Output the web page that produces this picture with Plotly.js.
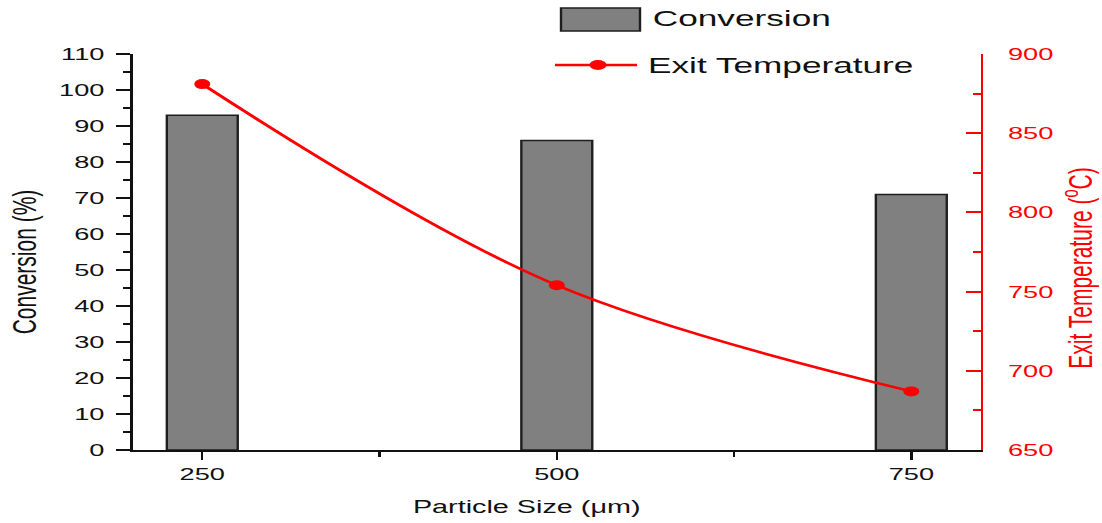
<!DOCTYPE html>
<html>
<head>
<meta charset="utf-8">
<script src="https://cdn.plot.ly/plotly-3.0.1.min.js"></script>
<style>
  html, body { margin: 0; padding: 0; background: #ffffff; }
  #wrap { width: 1102px; height: 523px; overflow: hidden; position: relative; }
  #plot { width: 689px; height: 523px; transform: scaleX(1.6); transform-origin: 0 0; }
</style>
</head>
<body>
<div id="wrap"><div id="plot"></div></div>
<script>
// ---- data ----
const particleSize = [250, 500, 750];            // µm
const conversion = [93, 86, 71];                 // %
const exitTemperature = [881, 754, 687];         // °C
const xTickVals = [250, 500, 750];
const xTickText = ['250', '500', '750'];
const seriesNames = ['Conversion', 'Exit Temperature'];

// ---- geometry helpers (visual px -> paper) ----
const S = 1.6, ML = 83, MR = 76, MT = 54, MB = 73, W = 689, H = 523;
const PW = W - ML - MR, PH = H - MT - MB;
const fx = px => (px / S - ML) / PW;
const fy = py => (H - MB - py) / PH;

const FONT = 'Liberation Sans, Arial, Helvetica, sans-serif';
const RED = '#ff0000';
const INK = '#111111';

const bars = {
  type: 'bar',
  x: particleSize,
  y: conversion,
  name: seriesNames[0],
  width: 50,
  marker: { color: '#808080', line: { color: '#1e1e1e', width: 1.5 } },
  showlegend: false
};

const line = {
  type: 'scatter',
  mode: 'lines+markers',
  x: particleSize,
  y: exitTemperature,
  yaxis: 'y2',
  name: seriesNames[1],
  line: { color: RED, width: 2.5, shape: 'spline', smoothing: 1 },
  marker: { color: RED, size: 10 },
  cliponaxis: false,
  showlegend: false
};

const layout = {
  width: W, height: H,
  margin: { l: ML, r: MR, t: MT, b: MB, pad: 0 },
  paper_bgcolor: '#ffffff',
  plot_bgcolor: '#ffffff',
  font: { family: FONT, color: INK, size: 17 },
  showlegend: false,
  xaxis: {
    range: [201, 799],
    tickvals: xTickVals, ticktext: xTickText,
    ticks: 'outside', ticklen: 8, tickwidth: 1.5, tickcolor: INK,
    minor: { tickvals: [375, 625], ticks: 'outside', ticklen: 5, tickwidth: 1.5, tickcolor: INK },
    showline: true, linecolor: INK, linewidth: 2,
    showgrid: false, zeroline: false,
    tickfont: { family: FONT, size: 17, color: INK },
    fixedrange: true
  },
  yaxis: {
    range: [0, 110], dtick: 10, tick0: 0,
    ticks: 'outside', ticklen: 8.75, tickwidth: 2, tickcolor: INK,
    minor: { dtick: 5, ticks: 'outside', ticklen: 4.5, tickwidth: 2, tickcolor: INK },
    showline: true, linecolor: INK, linewidth: 1.6,
    showgrid: false, zeroline: false,
    tickfont: { family: FONT, size: 17, color: INK },
    ticklabelstandoff: 4,
    fixedrange: true
  },
  yaxis2: {
    overlaying: 'y', side: 'right',
    range: [650, 900], dtick: 50, tick0: 650,
    ticks: 'inside', ticklen: 9.4, tickwidth: 2, tickcolor: RED,
    minor: { dtick: 25, ticks: 'inside', ticklen: 5, tickwidth: 2, tickcolor: RED },
    showline: true, linecolor: RED, linewidth: 1.6,
    showgrid: false, zeroline: false,
    tickfont: { family: FONT, size: 17, color: RED },
    ticklabelstandoff: 12,
    fixedrange: true
  },
  shapes: [
    { type: 'rect', xref: 'paper', yref: 'paper', x0: fx(561), x1: fx(640), y0: fy(31), y1: fy(8),
      fillcolor: '#808080', line: { color: '#1e1e1e', width: 1.5 } },
    { type: 'line', xref: 'paper', yref: 'paper', x0: fx(555), x1: fx(637), y0: fy(65), y1: fy(65),
      line: { color: RED, width: 2.5 } },
    { type: 'circle', xref: 'paper', yref: 'paper', x0: fx(589.5), x1: fx(606.5), y0: fy(70), y1: fy(60),
      fillcolor: RED, line: { color: RED, width: 0 } }
  ],
  annotations: [
    { xref: 'paper', yref: 'paper', x: fx(649), y: fy(19), xanchor: 'left', yanchor: 'middle',
      text: seriesNames[0], showarrow: false, font: { family: FONT, size: 22, color: INK } },
    { xref: 'paper', yref: 'paper', x: fx(645), y: fy(65), xanchor: 'left', yanchor: 'middle',
      text: seriesNames[1], showarrow: false, font: { family: FONT, size: 22, color: INK } },
    { xref: 'paper', yref: 'paper', x: fx(23), y: fy(262), xanchor: 'center', yanchor: 'middle',
      text: 'Conversion (%)', textangle: -90, showarrow: false, font: { family: FONT, size: 21, color: INK } },
    { xref: 'paper', yref: 'paper', x: fx(1078), y: fy(268), xanchor: 'center', yanchor: 'middle',
      text: 'Exit Temperature (<sup>o</sup>C)', textangle: -90, showarrow: false, font: { family: FONT, size: 21, color: RED } },
    { xref: 'paper', yref: 'paper', x: fx(527), y: fy(507), xanchor: 'center', yanchor: 'middle',
      text: 'Particle Size (\u03bcm)', showarrow: false, font: { family: FONT, size: 18, color: INK } }
  ]
};

Plotly.newPlot('plot', [bars, line], layout, { staticPlot: true, displayModeBar: false, responsive: false });
</script>
</body>
</html>
